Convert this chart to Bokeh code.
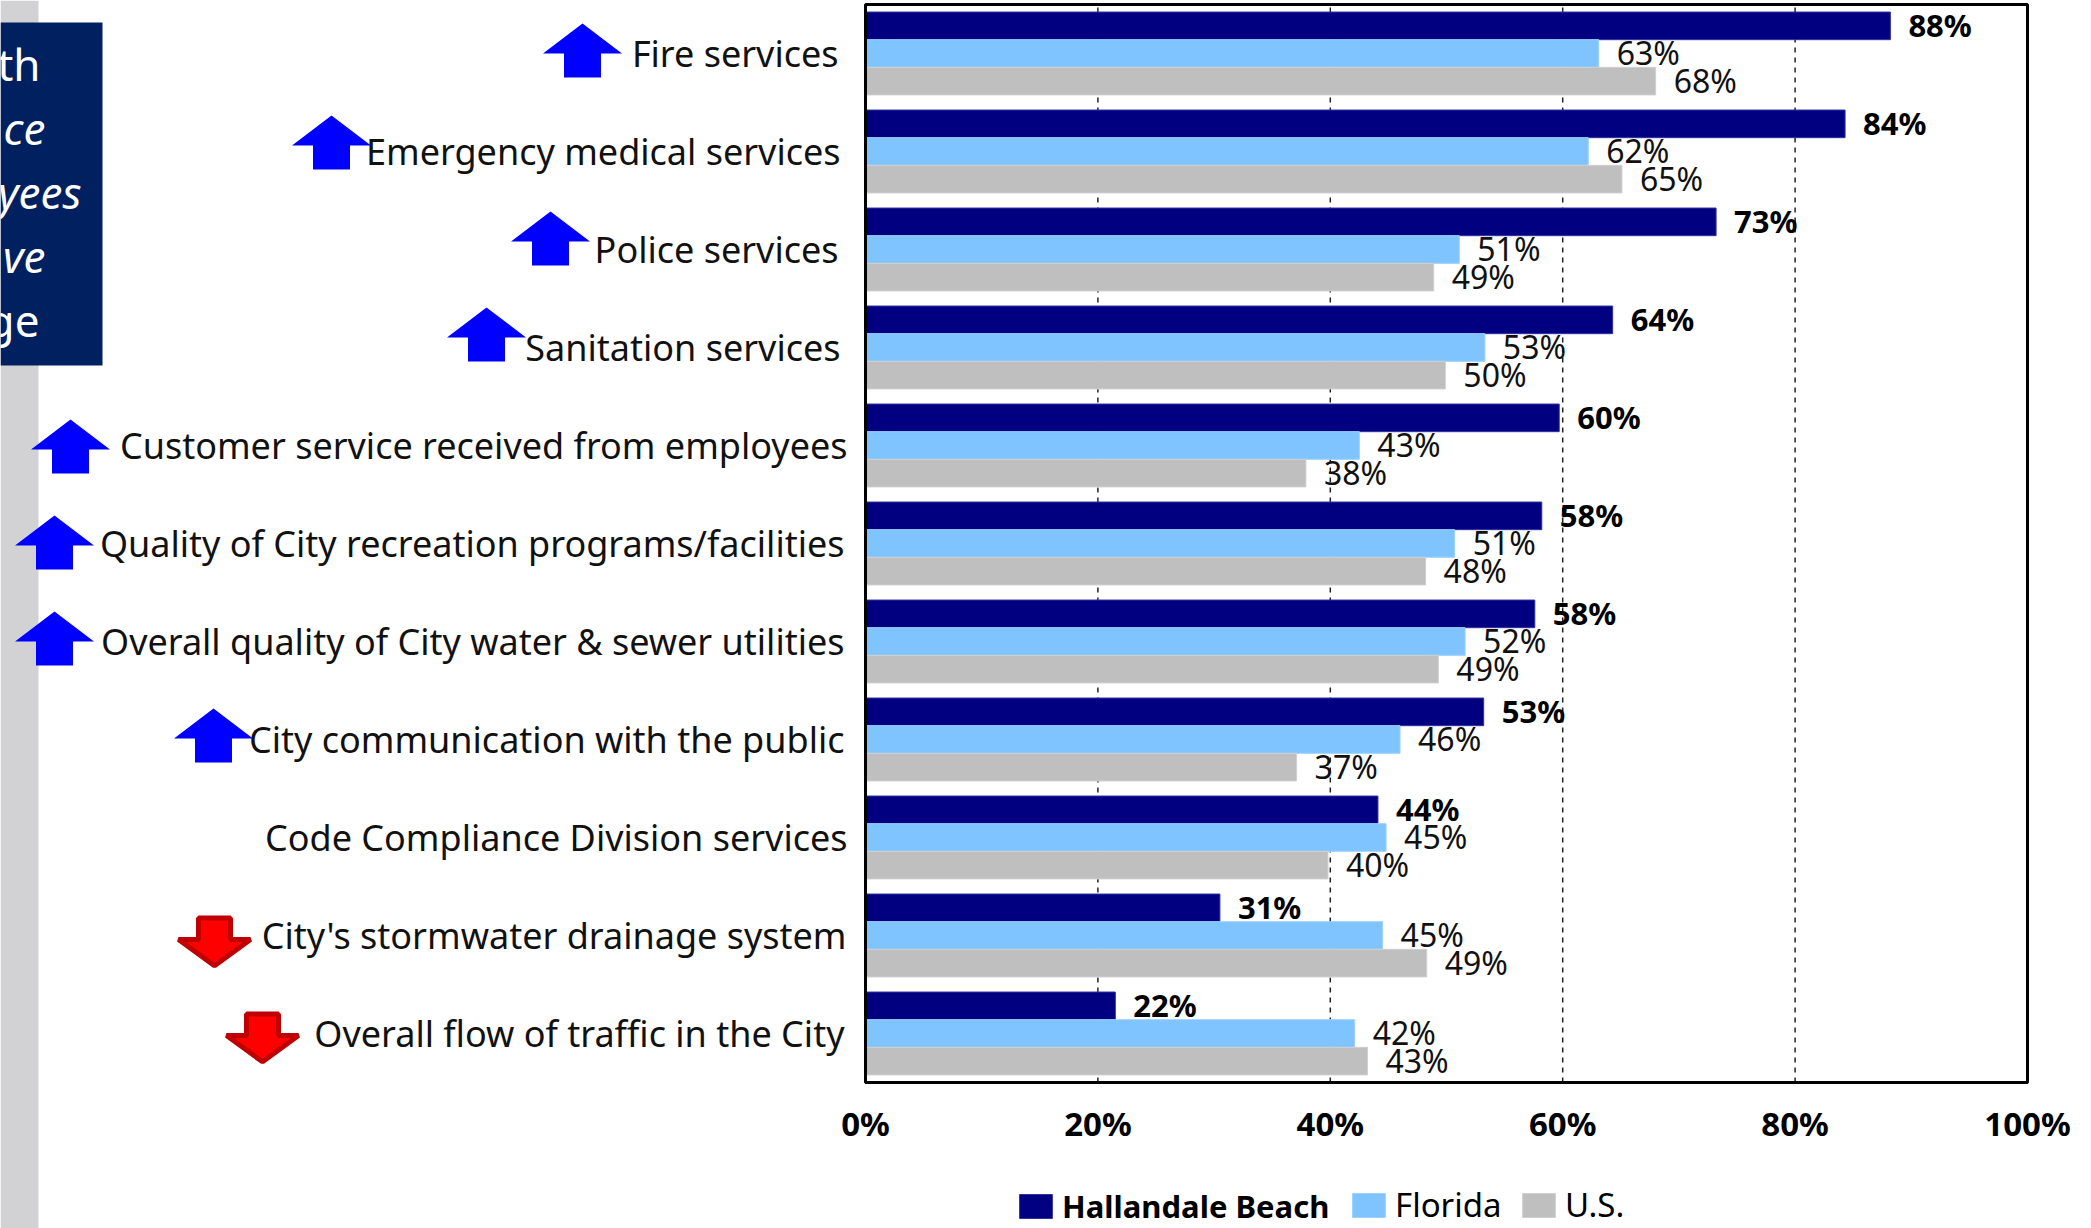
from bokeh.plotting import figure
from bokeh.embed import file_html
from bokeh.resources import INLINE
from bokeh.models import (ColumnDataSource, Range1d, FixedTicker, Label, Legend, LegendItem,
                          BoxAnnotation, PolyAnnotation)
from bokeh.core.properties import value

categories = ["Fire services", "Emergency medical services", "Police services", "Sanitation services",
              "Customer service received from employees", "Quality of City recreation programs/facilities",
              "Overall quality of City water & sewer utilities", "City communication with the public",
              "Code Compliance Division services", "City's stormwater drainage system",
              "Overall flow of traffic in the City"]
hallandale = [88.2, 84.3, 73.2, 64.3, 59.7, 58.2, 57.6, 53.2, 44.1, 30.5, 21.5]
florida = [63.1, 62.2, 51.1, 53.3, 42.5, 50.7, 51.6, 46.0, 44.8, 44.5, 42.1]
us = [68.0, 65.1, 48.9, 49.9, 37.9, 48.2, 49.3, 37.1, 39.8, 48.3, 43.2]
hallandale_labels = ["88%", "84%", "73%", "64%", "60%", "58%", "58%", "53%", "44%", "31%", "22%"]
florida_labels = ["63%", "62%", "51%", "53%", "43%", "51%", "52%", "46%", "45%", "45%", "42%"]
us_labels = ["68%", "65%", "49%", "50%", "38%", "48%", "49%", "37%", "40%", "49%", "43%"]
tick_values = [0, 20, 40, 60, 80, 100]
tick_labels = ["0%", "20%", "40%", "60%", "80%", "100%"]
series_names = ["Hallandale Beach", "Florida", "U.S."]
box_lines = ["th", "ce", "yees", "ve", "ge"]

FONT = "Noto Sans"
NAVY, LIGHT, GREY = "#000080", "#80C4FF", "#BFBFBF"
W, H = 2091, 1228
LEFT, RIGHT, TOP, BOTTOM = 865, 2027, 4, 1082
BW = 0.282
n = len(categories)
px_x = (RIGHT - LEFT) / 100
px_y = (BOTTOM - TOP) / n
pos = [n - i - 0.5 for i in range(n)]

# The frame fills the canvas so that labels, arrows and the call-out box can sit left of the bars.
p = figure(width=W, height=H, output_backend="svg", toolbar_location=None,
           x_range=Range1d(-LEFT / px_x, (W - LEFT) / px_x),
           y_range=Range1d(-(H - BOTTOM) / px_y, n + TOP / px_y),
           min_border_left=0, min_border_right=0, min_border_top=0, min_border_bottom=0,
           background_fill_color="white", border_fill_color="white")
p.outline_line_color = None
p.ygrid.visible = False
p.xgrid.visible = False
p.yaxis.visible = False

ax = p.xaxis[0]
ax.fixed_location = 0
ax.ticker = FixedTicker(ticks=tick_values)
ax.major_label_overrides = dict(zip(tick_values, tick_labels))
ax.major_label_text_font = FONT
ax.major_label_text_font_style = "bold"
ax.major_label_text_font_size = "33px"
ax.major_label_text_color = "black"
ax.major_label_standoff = 12
ax.axis_line_color = None
ax.major_tick_line_color = None
ax.minor_tick_line_color = None

# dashed grid lines limited to the chart's height
inner_ticks = tick_values[1:-1]
p.segment(x0=inner_ticks, x1=inner_ticks, y0=[0] * len(inner_ticks), y1=[n] * len(inner_ticks),
          line_color="#222222", line_width=1.5, line_dash="5 5")

source = ColumnDataSource(dict(pos=pos, h=hallandale, f=florida, u=us,
                               hl=hallandale_labels, fl=florida_labels, ul=us_labels))
specs = [("h", "hl", BW, NAVY, "bold", "31px", "black", "#3030A0"),
         ("f", "fl", 0.0, LIGHT, "normal", "32px", "#111111", "#9CD0FF"),
         ("u", "ul", -BW, GREY, "normal", "32px", "#111111", "#D0D0D0")]
renderers = []
for col, lab, off, color, style, size, tcolor, lcolor in specs:
    ys = [v + off for v in pos]
    src = ColumnDataSource(dict(y=ys, v=source.data[col], t=source.data[lab]))
    r = p.hbar(y="y", right="v", left=0, height=BW, source=src, fill_color=color, line_color=lcolor, line_width=1)
    renderers.append(r)
    p.text(x="v", y="y", text="t", source=src, x_offset=18, y_offset=-1, text_baseline="middle", text_align="left",
           text_font=value(FONT), text_font_size=size, text_font_style=style, text_color=tcolor)

# frame of the chart
p.quad(left=[0], right=[100], bottom=[0], top=[n], fill_color=None, line_color="black", line_width=3)

# grey band and navy call-out box at the page's left edge
p.add_layout(BoxAnnotation(left=0, right=38, top=0, bottom=H, left_units="canvas", right_units="canvas",
                           top_units="canvas", bottom_units="canvas", fill_color="#D2D2D4", fill_alpha=1, line_color=None))
p.add_layout(BoxAnnotation(left=0, right=102, top=22, bottom=365, left_units="canvas", right_units="canvas",
                           top_units="canvas", bottom_units="canvas", fill_color="#002060", fill_alpha=1, line_color=None))
box_right = [40, 45, 81, 45, 39]
box_y = [63, 127, 191, 255, 319]
box_style = ["normal", "italic", "italic", "italic", "normal"]
for t, bx, by, st in zip(box_lines, box_right, box_y, box_style):
    p.add_layout(Label(x=bx, y=by, x_units="canvas", y_units="canvas", text=t, text_align="right",
                       text_baseline="middle", text_color="white", text_font=FONT, text_font_size="44px",
                       text_font_style=st))

# category labels, right aligned against the frame with the reference's small jitter
label_gap = [27, 25, 27, 25, 18, 21, 21, 21, 18, 19, 21]
for c, y, g in zip(categories, pos, label_gap):
    p.add_layout(Label(x=0, y=y, x_offset=-g, y_offset=0, text=c, text_align="right",
                       text_baseline="middle", text_color="#111111", text_font=FONT, text_font_size="36px"))

# trend arrows
def arrow(cx, top, down=False, inset=0):
    hw, sw, h, hh = 39.5 - inset * 1.4, 18.5 - inset, 54, 30
    xs = [cx, cx + hw, cx + sw, cx + sw, cx - sw, cx - sw, cx - hw]
    ys = [inset * 1.5, hh, hh, h - inset, h - inset, hh, hh]
    if down:
        ys = [h - v for v in ys]
    ys = [top + v for v in ys]
    return xs, ys

up_arrows = [(582, 23), (331, 115), (550, 211), (486, 307), (70, 419), (54, 515), (54, 611), (213, 708)]
down_arrows = [(214, 915), (262, 1011)]
for cx, t in up_arrows:
    xs, ys = arrow(cx, t)
    p.add_layout(PolyAnnotation(xs=xs, ys=ys, xs_units="canvas", ys_units="canvas", fill_color="#0000FF",
                                fill_alpha=1, line_color=None))
for cx, t in down_arrows:
    xs, ys = arrow(cx, t, down=True, inset=2.5)
    p.add_layout(PolyAnnotation(xs=xs, ys=ys, xs_units="canvas", ys_units="canvas", fill_color="#FF0000",
                                fill_alpha=1, line_color="#C00000", line_alpha=1, line_width=5))

# legend: one per entry so that only the first label is bold
legend_x = [1015, 1348, 1518]
legend_style = ["bold", "normal", "normal"]
legend_size = ["31px", "33px", "33px"]
for name, r, lx, st, sz in zip(series_names, renderers, legend_x, legend_style, legend_size):
    leg = Legend(items=[LegendItem(label=name, renderers=[r])], location=(lx, H - 1227),
                 orientation="horizontal", border_line_color=None, background_fill_alpha=0, padding=0, margin=0,
                 glyph_width=41, glyph_height=30, label_standoff=6, label_text_font=FONT, label_text_font_size=sz,
                 label_text_font_style=st, label_text_color="black", label_height=30)
    p.add_layout(leg, "center")

open("out.html", "w").write(file_html(p, INLINE))
